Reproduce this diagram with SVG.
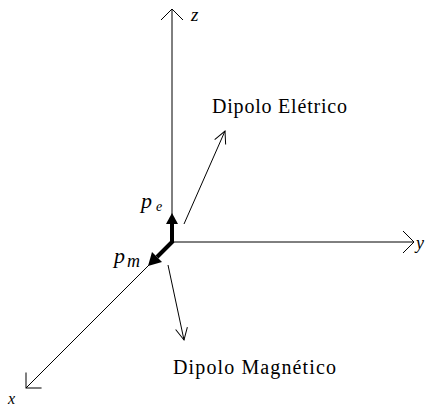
<svg xmlns="http://www.w3.org/2000/svg" width="430" height="409" viewBox="0 0 430 409">
<defs>
<style>
.ax{stroke:#000;stroke-width:1;fill:none}
.thin{stroke:#000;stroke-width:1;fill:none}
.thick{stroke:#000;stroke-width:4;fill:none}
.head{fill:#000;stroke:none}
.lbl{font-family:"Liberation Serif","Times New Roman",serif;font-size:20px;fill:#000}
.it{font-family:"Liberation Serif","Times New Roman",serif;font-style:italic;fill:#000}
</style>
<marker id="open" viewBox="0 0 14 14" refX="13" refY="7" markerWidth="14" markerHeight="14" markerUnits="userSpaceOnUse" orient="auto">
<path d="M1,1 L13,7 L1,13" stroke="#000" stroke-width="1" fill="none"/>
</marker>
<marker id="openL" viewBox="0 0 24 24" refX="23" refY="12" markerWidth="24" markerHeight="24" markerUnits="userSpaceOnUse" orient="auto">
<path d="M12,1 L23,12 L12,23" stroke="#000" stroke-width="1" fill="none"/>
</marker>
</defs>
<rect width="430" height="409" fill="#fff"/>
<g id="connectors">
<line id="z-axis" class="ax" x1="172" y1="242" x2="172" y2="9" marker-end="url(#openL)"/>
<line id="y-axis" class="ax" x1="172" y1="242" x2="414" y2="242" marker-end="url(#openL)"/>
<line id="x-axis" class="ax" x1="172" y1="242" x2="26" y2="388" marker-end="url(#openL)"/>
<line id="arrow-eletrico" class="thin" x1="184" y1="224" x2="225" y2="131" marker-end="url(#open)"/>
<line id="arrow-magnetico" class="thin" x1="168" y1="265" x2="184" y2="340" marker-end="url(#open)"/>
</g>
<g id="pe">
<line class="thick" x1="172" y1="243" x2="172" y2="222"/>
<polygon class="head" points="172,213 166,224 178,224"/>
<text class="it" x="141" y="208" font-size="22">p</text>
<text class="it" x="156" y="211" font-size="14">e</text>
</g>
<g id="pm">
<line class="thick" x1="173" y1="241" x2="157" y2="257"/>
<polygon class="head" points="148,266 152,252 162,262"/>
<text class="it" x="114" y="263" font-size="22">p</text>
<text class="it" x="127" y="267" font-size="18">m</text>
</g>
<g id="label-z"><text class="it" x="191" y="21" font-size="19">z</text></g>
<g id="label-y"><text class="it" x="416" y="249" font-size="18">y</text></g>
<g id="label-x"><text class="it" x="8" y="404" font-size="16">x</text></g>
<g id="dipolo-eletrico"><text class="lbl" x="212" y="113" textLength="135" lengthAdjust="spacing">Dipolo Elétrico</text></g>
<g id="dipolo-magnetico"><text class="lbl" x="173" y="374" textLength="163" lengthAdjust="spacing">Dipolo Magnético</text></g>
</svg>
